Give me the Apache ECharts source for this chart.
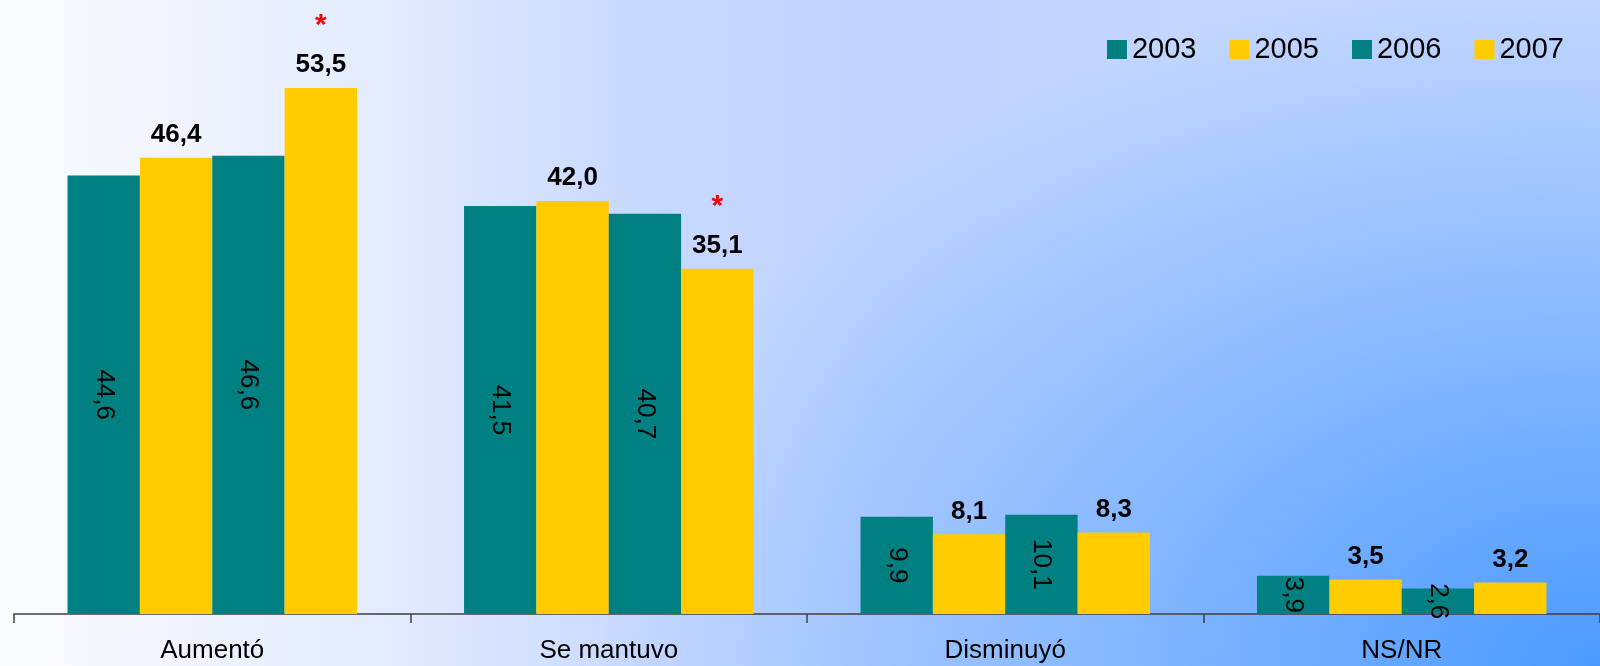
<!DOCTYPE html>
<html>
<head>
<meta charset="utf-8">
<script src="https://cdn.jsdelivr.net/npm/echarts@6/dist/echarts.min.js"></script>
<style>
html,body{margin:0;padding:0;width:1600px;height:666px;overflow:hidden;}
#chart{width:1600px;height:666px;
background:
 radial-gradient(ellipse 1000px 700px at 100% 100%, rgba(74,154,255,1) 0%, rgba(74,154,255,0) 100%),
 linear-gradient(to right, #fafcff 0%, #e2eafd 25%, #c8d9ff 40%, #c0d4ff 55%, #c8d9ff 100%);
}
</style>
</head>
<body>
<div id="chart"></div>
<script>
const categories = ['Aumentó', 'Se mantuvo', 'Disminuyó', 'NS/NR'];
const seriesNames = ['2003', '2005', '2006', '2007'];
const v2003 = [44.6, 41.5, 9.9, 3.9];
const v2005 = [46.4, 42.0, 8.1, 3.5];
const v2006 = [46.6, 40.7, 10.1, 2.6];
const v2007 = [53.5, 35.1, 8.3, 3.2];
const starred2007 = [true, true, false, false];

const TEAL = '#008080';
const YELLOW = '#ffcc00';
const FONT = '"Liberation Sans", Arial, Helvetica, sans-serif';
const fmt = v => v.toFixed(1).replace('.', ',');

function insideLabel() {
  return {
    show: true, position: 'inside', rotate: -90,
    fontFamily: FONT, fontSize: 26, color: '#000',
    formatter: p => fmt(p.value)
  };
}
function topLabel(stars) {
  return {
    show: true, position: 'top', distance: 9,
    fontFamily: FONT, fontSize: 26, fontWeight: 'bold', color: '#000',
    formatter: p => (stars && stars[p.dataIndex]) ? '{s|*}\n{v|' + fmt(p.value) + '}' : '{v|' + fmt(p.value) + '}',
    rich: {
      v: { fontFamily: FONT, fontSize: 26, fontWeight: 'bold', color: '#000', lineHeight: 28 },
      s: { fontFamily: FONT, fontSize: 30, fontWeight: 'bold', color: '#ff0000', lineHeight: 50 }
    }
  };
}

const chart = echarts.init(document.getElementById('chart'));
chart.setOption({
  backgroundColor: 'transparent',
  animation: false,
  textStyle: { fontFamily: FONT },
  legend: {
    data: seriesNames,
    right: 31, top: 30,
    icon: 'rect', itemWidth: 20, itemHeight: 19, itemGap: 33,
    textStyle: { fontFamily: FONT, fontSize: 29, color: '#000' }
  },
  grid: { left: 14, top: 24, width: 1592, height: 590, containLabel: false },
  xAxis: {
    type: 'category', data: categories,
    axisLine: { lineStyle: { color: '#404040', width: 1.5 } },
    axisTick: { show: true, length: 9, lineStyle: { color: '#404040', width: 1.5 } },
    axisLabel: { fontFamily: FONT, fontSize: 26, color: '#000', margin: 24 }
  },
  yAxis: { type: 'value', min: 0, max: 60, show: false, splitLine: { show: false } },
  series: [
    { name: '2003', type: 'bar', data: v2003, itemStyle: { color: TEAL }, barGap: '0%', barCategoryGap: '27%', label: insideLabel() },
    { name: '2005', type: 'bar', data: v2005, itemStyle: { color: YELLOW }, label: topLabel(null) },
    { name: '2006', type: 'bar', data: v2006, itemStyle: { color: TEAL }, label: insideLabel() },
    { name: '2007', type: 'bar', data: v2007, itemStyle: { color: YELLOW }, label: topLabel(starred2007) }
  ]
});
</script>
</body>
</html>
